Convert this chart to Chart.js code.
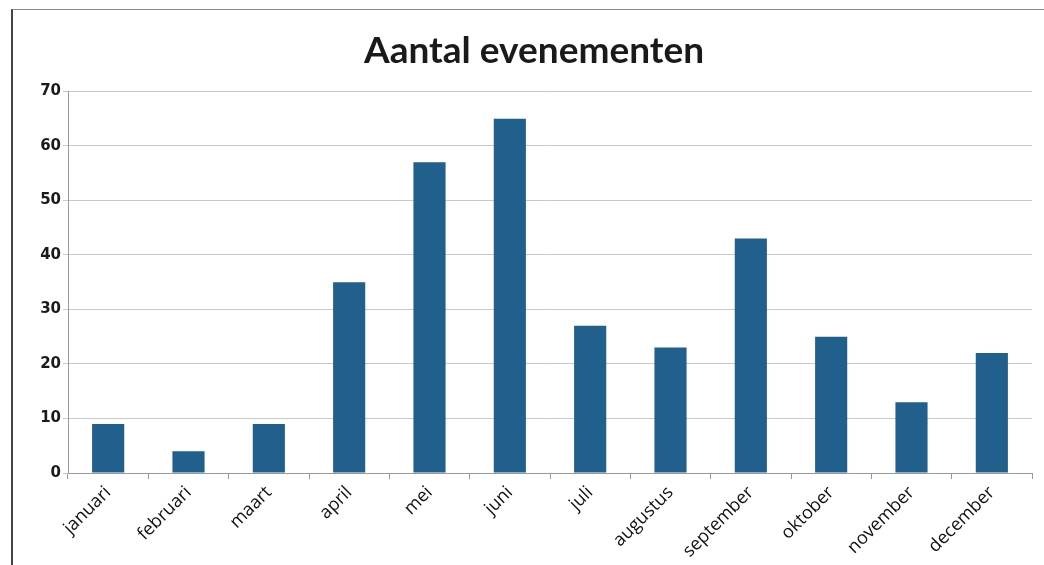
<!DOCTYPE html>
<html>
<head>
<meta charset="utf-8">
<script src="https://cdn.jsdelivr.net/npm/chart.js@4/dist/chart.umd.min.js"></script>
<style>
    body { margin: 0; background: #fff; }
    #frame { position: absolute; left: 11px; top: 9px; width: 1040px; height: 600px;
             border-left: 2px solid #444; border-top: 1px solid #888; }
    #wrap { position: absolute; left: 0; top: 0; width: 1044px; height: 565px; }
</style>
</head>
<body>
<div id="frame"></div>
<div id="wrap"><canvas id="out" width="1044" height="565"></canvas></div>
<script>
const months = ["januari", "februari", "maart", "april", "mei", "juni",
    "juli", "augustus", "september", "oktober", "november", "december"];
const eventCounts = [9, 4, 9, 35, 57, 65, 27, 23, 43, 25, 13, 22];
const chartTitle = "Aantal evenementen";
const yMax = 70;
const yStep = 10;

const canvasCtx = document.getElementById("out").getContext("2d");

window.chart = new Chart(canvasCtx, {
    type: "bar",
    data: {
        labels: months,
        datasets: [{
            label: chartTitle,
            data: eventCounts,
            backgroundColor: "#215f8c",
            barPercentage: 0.8,
            categoryPercentage: 0.5
        }]
    },
    options: {
        responsive: false,
        animation: false,
        layout: { padding: { left: 36, right: 12, top: 0, bottom: 0 } },
        plugins: {
            legend: { display: false },
            tooltip: { enabled: false },
            title: {
                display: true,
                text: chartTitle,
                color: "#1a1a1a",
                font: { family: "Lato", size: 37, weight: "bold" },
                padding: { top: 29, bottom: 18 }
            }
        },
        scales: {
            x: {
                grid: { drawOnChartArea: false, tickLength: 6, color: "#999" },
                border: { color: "#999" },
                ticks: {
                    minRotation: 45,
                    maxRotation: 45,
                    color: "#111",
                    font: { family: "Open Sans", size: 18 }
                },
                afterFit: function(axis) { axis.height = 92; }
            },
            y: {
                min: 0,
                max: yMax,
                grid: { color: "#c8c8c8", tickLength: 5 },
                border: { color: "#999" },
                ticks: {
                    stepSize: yStep,
                    padding: 2,
                    color: "#1a1a1a",
                    font: { family: "DejaVu Sans", size: 15, weight: "bold" }
                },
                afterFit: function(axis) { axis.width = 32; }
            }
        }
    }
});
</script>
</body>
</html>
